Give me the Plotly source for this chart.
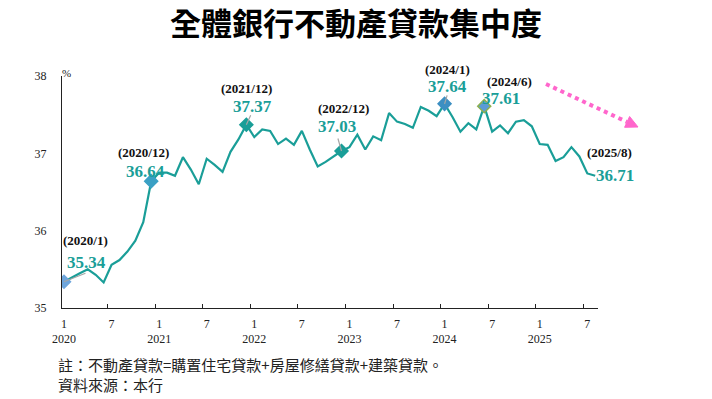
import plotly.graph_objects as go

# ---- data ----
months = list(range(68))  # 2020/1 .. 2025/8
values = [
    35.34, 35.40, 35.45, 35.50, 35.43, 35.33, 35.56, 35.62, 35.73, 35.87, 36.11, 36.64,
    36.75, 36.75, 36.71, 36.95, 36.79, 36.60, 36.93, 36.85, 36.76, 37.02, 37.18, 37.37,
    37.21, 37.31, 37.29, 37.12, 37.19, 37.11, 37.29, 37.05, 36.83, 36.89, 36.96, 37.03,
    37.08, 37.24, 37.05, 37.22, 37.17, 37.52, 37.41, 37.38, 37.33, 37.60, 37.55, 37.48,
    37.64, 37.47, 37.28, 37.39, 37.31, 37.61, 37.28, 37.36, 37.26, 37.41, 37.43, 37.35,
    37.12, 37.11, 36.90, 36.95, 37.08, 36.96, 36.74, 36.71,
]
tick_idx = [0, 6, 12, 18, 24, 30, 36, 42, 48, 54, 60, 66]
tick_text = ["1<br>2020", "7", "1<br>2021", "7", "1<br>2022", "7",
             "1<br>2023", "7", "1<br>2024", "7", "1<br>2025", "7"]
y_ticks = [35, 36, 37, 38]

# highlighted points
hl_idx = [0, 11, 23, 35, 48, 53, 67]
hl_date = ["(2020/1)", "(2020/12)", "(2021/12)", "(2022/12)", "(2024/1)", "(2024/6)", "(2025/8)"]
hl_fill = ["#6fa6dc", "#3aa0c4", "#1a9e98", "#1a9e98", "#3d8fc2", "#5b9bd5", None]
hl_edge = ["#6fa6dc", "#3aa0c4", "#1a9e98", "#1a9e98", "#3d8fc2", "#8db04f", None]
# label offsets in px (date dx, dy, value dx, dy)
lab_off = [(22, 41, 23, 19), (-8, 29, -6, 10), (0, 36, 6, 18), (2, 43, -5, 25),
           (3, 34, 3, 17), (25, 25, 17, 8), (14, 23, 20, 0)]
# gray leader lines (ax, ay) in px, None if absent
leaders = [(23, -9), None, (5, -11), (-4, -14), (3, -10), None, None]

notes = ["註：不動產貸款=購置住宅貸款+房屋修繕貸款+建築貸款。", "資料來源：本行"]

TEAL = "#1a9e98"
SERIF = "Liberation Serif, Times New Roman, serif"

fig = go.Figure()
fig.add_trace(go.Scatter(x=months, y=values, mode="lines",
                         line=dict(color=TEAL, width=2.2), hoverinfo="skip",
                         showlegend=False))

mk_i = [i for i, c in zip(hl_idx, hl_fill) if c]
fig.add_trace(go.Scatter(
    x=mk_i, y=[values[i] for i in mk_i], mode="markers", showlegend=False,
    marker=dict(symbol="diamond", size=10,
                color=[c for c in hl_fill if c],
                line=dict(color=[c for c in hl_edge if c], width=1.5))))

for k, i in enumerate(hl_idx):
    ddx, ddy, vdx, vdy = lab_off[k]
    if leaders[k]:
        ax, ay = leaders[k]
        fig.add_annotation(x=i, y=values[i], text="", showarrow=True, arrowhead=0,
                           arrowwidth=1.2, arrowcolor="#a6a6a6", ax=ax, ay=ay,
                           standoff=0, startstandoff=0)
    fig.add_annotation(x=i, y=values[i], text="<b>%s</b>" % hl_date[k], showarrow=False,
                       xshift=ddx, yshift=ddy,
                       font=dict(family=SERIF, size=13, color="#111111"))
    fig.add_annotation(x=i, y=values[i], text="<b>%.2f</b>" % values[i], showarrow=False,
                       xshift=vdx, yshift=vdy,
                       font=dict(family=SERIF, size=17, color=TEAL))

# plot area in px: x 62..598, y 76..308
L, R, T, B = 62, 598, 76, 308
def px(X):
    return (X - L) / (R - L)
def py(Y):
    return (B - Y) / (B - T)

# pink dotted trend arrow
fig.add_shape(type="line", xref="paper", yref="paper",
              x0=px(546), y0=py(84), x1=px(627), y1=py(122),
              line=dict(color="#ff66cc", width=4, dash="4px,4px"))
fig.add_shape(type="path", xref="paper", yref="paper",
              path="M %f %f L %f %f L %f %f Z" % (px(638), py(127), px(624.6), py(127.3),
                                                  px(629.6), py(116.5)),
              fillcolor="#ff66cc", line=dict(color="#ff66cc", width=1))

fig.add_annotation(xref="paper", yref="paper", x=px(60), y=py(65), text="%",
                   showarrow=False, font=dict(family=SERIF, size=11, color="#222"))

fig.add_annotation(xref="paper", yref="paper", x=px(56), y=py(374), xanchor="left",
                   yanchor="middle", align="left",
                   text="<br>".join(notes),
                   showarrow=False, font=dict(family="Noto Sans CJK TC", size=15, color="#222"))

fig.update_layout(
    width=712, height=399,
    margin=dict(l=L, r=712 - R, t=T, b=399 - B),
    paper_bgcolor="white", plot_bgcolor="white",
    title=dict(text="<b>全體銀行不動產貸款集中度</b>", x=0.5, xanchor="center",
               y=1 - 24 / 399, yanchor="middle",
               font=dict(family="Noto Sans CJK TC", size=31, color="black")),
    xaxis=dict(range=[-0.25, 67.35], tickvals=tick_idx, ticktext=tick_text, ticks="",
               showgrid=False, zeroline=False, showline=True, linecolor="#222", linewidth=1.2,
               ticklabelstandoff=4,
               tickfont=dict(family=SERIF, size=12, color="#222"),
               minor=dict(tick0=-0.5, dtick=6, ticks="inside", ticklen=4,
                          tickcolor="#222", showgrid=False)),
    yaxis=dict(range=[35, 38], tickvals=y_ticks, ticks="", showgrid=False, zeroline=False,
               showline=True, linecolor="#222", linewidth=1.2, ticklabelstandoff=12,
               tickfont=dict(family=SERIF, size=12, color="#222")),
)

fig.write_html("out.html", config={"displayModeBar": False},
               post_script="document.body.style.margin='0';")
